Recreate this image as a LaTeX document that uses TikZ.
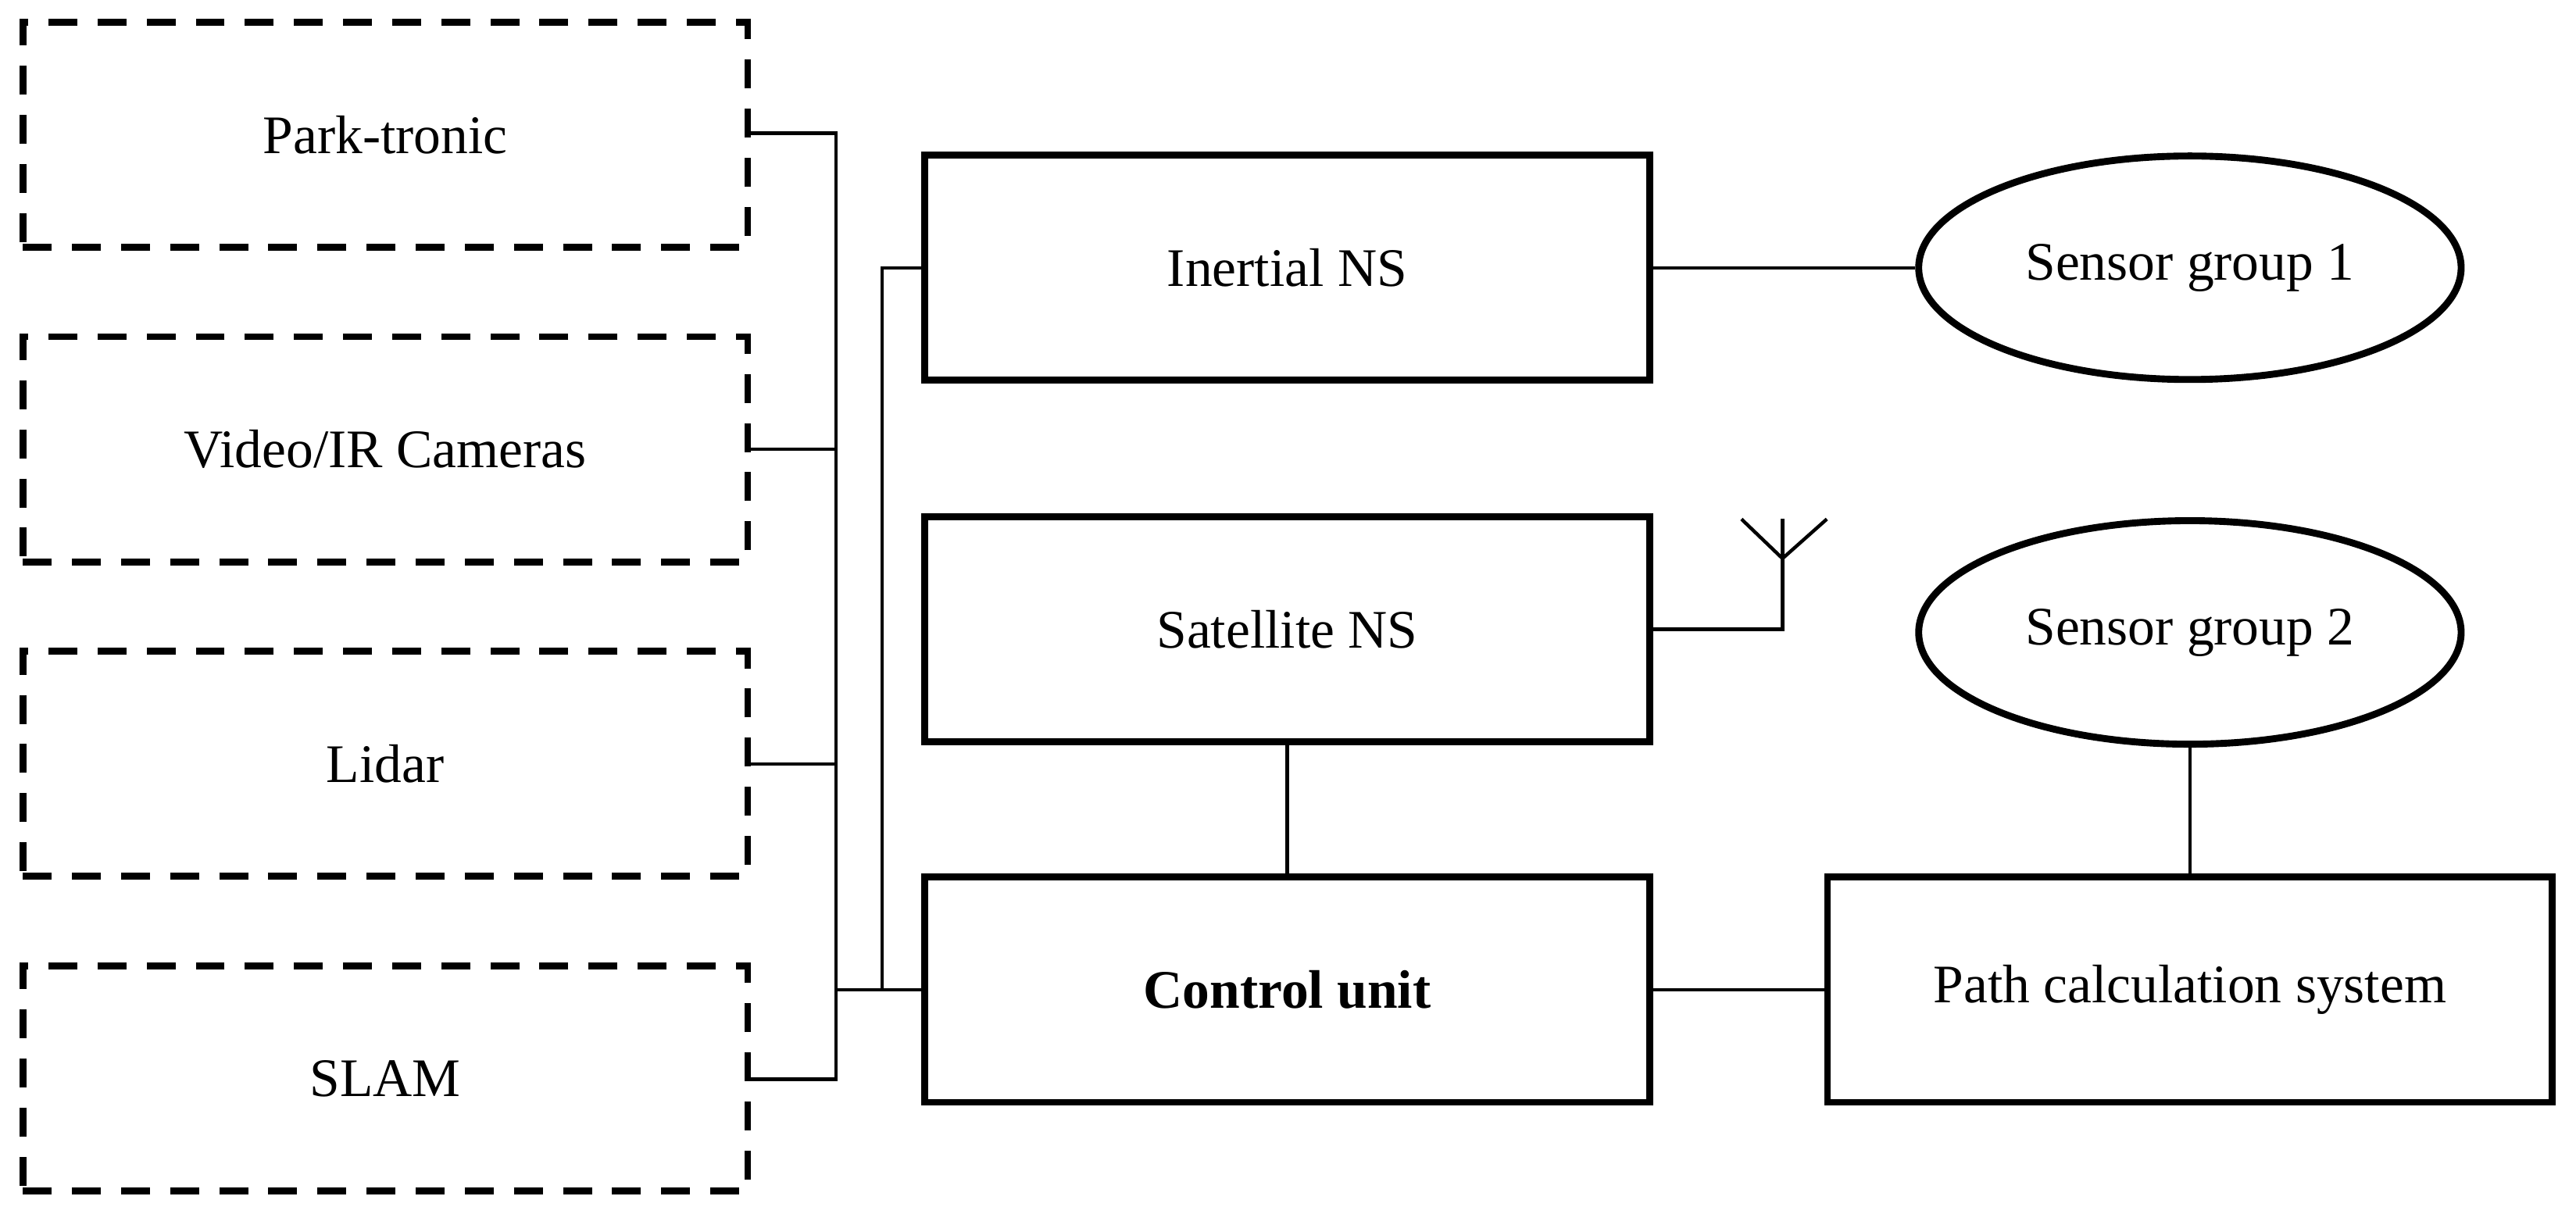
\documentclass[tikz,border=0pt]{standalone}
\usepackage{fontspec}
\setmainfont{Liberation Serif}
\usetikzlibrary{shapes.geometric}
\begin{document}
\begin{tikzpicture}[x=0.01cm,y=-0.01cm,
  box/.style={draw,line width=1.2pt,minimum width=4.41cm,minimum height=1.37cm,inner sep=0pt,font=\fontsize{9.4}{11}\selectfont},
  dbox/.style={box,dashed,dash pattern=on 5pt off 3.5pt},
  ell/.style={draw,ellipse,line width=1.2pt,minimum width=3.3cm,minimum height=1.36cm,inner sep=0pt,font=\fontsize{9.4}{11}\selectfont},
  ln/.style={line width=0.6pt}]
\useasboundingbox (0,0) rectangle (1568,739);
\node[dbox] (pt) at (234.5,82) {Park-tronic};
\node[dbox] (vc) at (234.5,273.5) {Video/IR Cameras};
\node[dbox] (li) at (234.5,465) {Lidar};
\node[dbox] (sl) at (234.5,656.5) {SLAM};
\node[box] (ins) at (783.5,163) {Inertial NS};
\node[box] (sat) at (783.5,383) {Satellite NS};
\node[box] (cu) at (783.5,602.5) {\textbf{Control unit}};
\node[box] (pc) at (1333,602.5) {Path calculation system};
\node[ell] (s1) at (1333,163) {Sensor group 1};
\node[ell] (s2) at (1333,385) {Sensor group 2};
\coordinate (b1) at (509,81);
\coordinate (b4) at (509,657);
\draw[ln] (pt.east|-b1) -- (b1) -- (b4) -- (sl.east|-b4);
\draw[ln] (vc.east) -- (vc.east-|b1);
\draw[ln] (li.east) -- (li.east-|b1);
\coordinate (c1) at (537,163);
\draw[ln] (509,602.5) -- (cu.west);
\draw[ln] (ins.west) -- (c1) -- (c1|-cu.west);
\draw[ln] (ins.east) -- (s1.west);
\coordinate (a0) at (1085,383);
\coordinate (a1) at (1085,340);
\coordinate (a2) at (1085,316);
\draw[ln] (sat.east) -- (a0) -- (a2);
\draw[ln] (1060,316) -- (a1) -- (1112,316);
\draw[ln] (sat.south) -- (cu.north);
\draw[ln] (cu.east) -- (pc.west);
\draw[ln] (s2.south) -- (pc.north);
\end{tikzpicture}
\end{document}
